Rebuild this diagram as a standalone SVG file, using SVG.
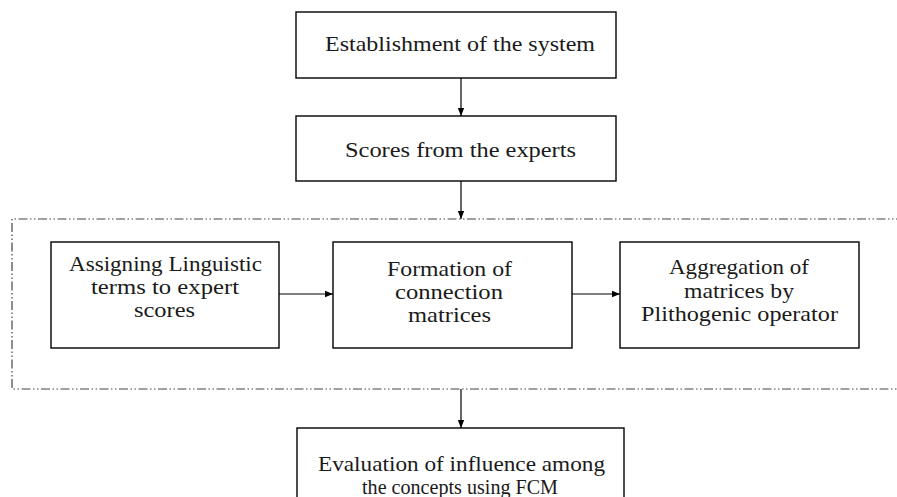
<svg xmlns="http://www.w3.org/2000/svg" width="897" height="497" viewBox="0 0 897 497">
  <style>
    .box { fill: #ffffff; stroke: #000000; stroke-width: 1.4; }
    .lbl { font-family: "Liberation Serif", "DejaVu Serif", serif; font-size: 21px; fill: #1a1a1a; text-anchor: middle; }
    .edge { stroke: #000000; stroke-width: 1.2; fill: none; marker-end: url(#arrow); }
    .frame { fill: none; stroke: #444444; stroke-width: 1.2; stroke-dasharray: 9 2.5 1.5 2.5 1.5 2.5; }
  </style>
  <defs>
    <marker id="arrow" viewBox="0 0 8 8" refX="8" refY="4" markerWidth="8" markerHeight="8" markerUnits="userSpaceOnUse" orient="auto">
      <path d="M0,0.8 L8,4 L0,7.2 Z" fill="#000000"/>
    </marker>
  </defs>
  <rect width="897" height="497" fill="#ffffff"/>

  <!-- dash-dot-dot frame around the matrix steps -->
  <g id="frame">
    <path class="frame" d="M905,219 H12 V389 H905"/>
  </g>

  <g id="connectors">
    <line class="edge" x1="461" y1="78" x2="461" y2="116"/>
    <line class="edge" x1="461" y1="181" x2="461" y2="219"/>
    <line class="edge" x1="279" y1="294" x2="333" y2="294"/>
    <line class="edge" x1="572" y1="294" x2="620" y2="294"/>
    <line class="edge" x1="461" y1="389" x2="461" y2="428"/>
  </g>

  <g id="n-establish">
    <rect class="box" x="296" y="12" width="320" height="66"/>
    <text class="lbl" x="460" y="51" textLength="270" lengthAdjust="spacingAndGlyphs">Establishment of the system</text>
  </g>

  <g id="n-scores">
    <rect class="box" x="296" y="116" width="320" height="65"/>
    <text class="lbl" x="460.5" y="157" textLength="231" lengthAdjust="spacingAndGlyphs">Scores from the experts</text>
  </g>

  <g id="n-linguistic">
    <rect class="box" x="51" y="242" width="228" height="106"/>
    <text class="lbl" x="165.5" y="271" textLength="193" lengthAdjust="spacingAndGlyphs">Assigning Linguistic</text>
    <text class="lbl" x="165" y="294" textLength="148" lengthAdjust="spacingAndGlyphs">terms to expert</text>
    <text class="lbl" x="164.5" y="317" textLength="61" lengthAdjust="spacingAndGlyphs">scores</text>
  </g>

  <g id="n-formation">
    <rect class="box" x="333" y="242" width="239" height="106"/>
    <text class="lbl" x="449.5" y="275.5" textLength="125" lengthAdjust="spacingAndGlyphs">Formation of</text>
    <text class="lbl" x="449" y="299" textLength="108" lengthAdjust="spacingAndGlyphs">connection</text>
    <text class="lbl" x="449.5" y="322" textLength="83" lengthAdjust="spacingAndGlyphs">matrices</text>
  </g>

  <g id="n-aggregation">
    <rect class="box" x="620" y="242" width="239" height="106"/>
    <text class="lbl" x="739" y="274" textLength="140" lengthAdjust="spacingAndGlyphs">Aggregation of</text>
    <text class="lbl" x="739" y="297.5" textLength="110" lengthAdjust="spacingAndGlyphs">matrices by</text>
    <text class="lbl" x="739.5" y="320.5" textLength="197" lengthAdjust="spacingAndGlyphs">Plithogenic operator</text>
  </g>

  <g id="n-evaluation">
    <rect class="box" x="297" y="428" width="327" height="90"/>
    <text class="lbl" x="461.5" y="471" textLength="287" lengthAdjust="spacingAndGlyphs">Evaluation of influence among</text>
    <text class="lbl" x="460" y="494" textLength="196" lengthAdjust="spacingAndGlyphs">the concepts using FCM</text>
  </g>
</svg>
